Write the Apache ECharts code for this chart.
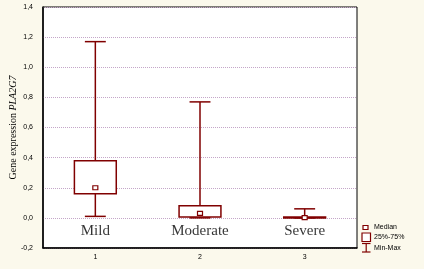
<!DOCTYPE html>
<html>
<head>
<meta charset="utf-8">
<script src="https://cdn.jsdelivr.net/npm/echarts@6/dist/echarts.min.js"></script>
<style>
  html, body { margin: 0; padding: 0; background: #fbf9ec; }
  #chart { width: 424px; height: 269px; }
</style>
</head>
<body>
<div id="chart"></div>
<script>
// categories on the x axis (tick labels) and the group names written inside the plot
var tickLabels = ['1', '2', '3'];
var groupNames = ['Mild', 'Moderate', 'Severe'];
// box statistics per group: min, 25%, median, 75%, max
var minVals = [0.01, 0.0, 0.0];
var q1Vals = [0.16, 0.005, 0.0];
var medianVals = [0.2, 0.03, 0.002];
var q3Vals = [0.38, 0.08, 0.005];
var maxVals = [1.17, 0.77, 0.06];
// y position of the group name labels
var nameY = [-0.09, -0.09, -0.09];

var darkRed = '#800000';

var boxData = tickLabels.map(function (t, i) {
  return [i, minVals[i], q1Vals[i], medianVals[i], q3Vals[i], maxVals[i]];
});
var nameData = groupNames.map(function (n, i) {
  return { value: [i, nameY[i]], name: n };
});

function renderBox(params, api) {
  var x = api.value(0);
  var band = api.size([1, 0])[0];
  var boxW = band * 0.4;
  var capW = band * 0.2;
  var pMin = api.coord([x, api.value(1)]);
  var pQ1 = api.coord([x, api.value(2)]);
  var pMed = api.coord([x, api.value(3)]);
  var pQ3 = api.coord([x, api.value(4)]);
  var pMax = api.coord([x, api.value(5)]);
  var st = { stroke: darkRed, lineWidth: 1.5, fill: null };
  var cx = pMin[0];
  return {
    type: 'group',
    children: [
      { type: 'line', shape: { x1: cx, y1: pMax[1], x2: cx, y2: pQ3[1] }, style: st },
      { type: 'line', shape: { x1: cx, y1: pQ1[1], x2: cx, y2: pMin[1] }, style: st },
      { type: 'line', shape: { x1: cx - capW / 2, y1: pMax[1], x2: cx + capW / 2, y2: pMax[1] }, style: st },
      { type: 'line', shape: { x1: cx - capW / 2, y1: pMin[1], x2: cx + capW / 2, y2: pMin[1] }, style: st },
      { type: 'rect', shape: { x: cx - boxW / 2, y: pQ3[1], width: boxW, height: Math.max(pQ1[1] - pQ3[1], 1) },
        style: { stroke: darkRed, lineWidth: 1.5, fill: '#fff' } },
      { type: 'rect', shape: { x: cx - 2.5, y: pMed[1] - 2, width: 5, height: 4 },
        style: { stroke: darkRed, lineWidth: 1.2, fill: '#fff' } }
    ]
  };
}

var chart = echarts.init(document.getElementById('chart'));
chart.setOption({
  backgroundColor: '#fbf9ec',
  animation: false,
  grid: {
    left: 43, right: 67, top: 7, bottom: 21,
    containLabel: false, outerBoundsMode: 'none',
    show: true, backgroundColor: '#fff', borderColor: '#000', borderWidth: 1
  },
  xAxis: {
    type: 'category',
    data: tickLabels,
    axisLine: { onZero: false, lineStyle: { color: '#000', width: 1.5 } },
    axisTick: { show: false },
    axisLabel: { color: '#000', fontSize: 7, fontFamily: 'Arial, Liberation Sans', margin: 6 },
    splitLine: { show: false }
  },
  yAxis: {
    type: 'value',
    min: -0.2, max: 1.4, interval: 0.2,
    name: '{n|Gene expression }{i|PLA2G7}',
    nameLocation: 'middle',
    nameGap: 25,
    nameMoveOverlap: false,
    nameTextStyle: {
      rich: {
        n: { fontFamily: 'Liberation Serif, Times New Roman, serif', fontSize: 10, color: '#000' },
        i: { fontFamily: 'Liberation Serif, Times New Roman, serif', fontSize: 10, fontStyle: 'italic', color: '#000' }
      }
    },
    axisLine: { show: true, onZero: false, lineStyle: { color: '#000', width: 1.5 } },
    axisTick: { show: false },
    axisLabel: {
      color: '#000', fontSize: 7, fontFamily: 'Arial, Liberation Sans', margin: 10,
      formatter: function (v) { return v.toFixed(1).replace('.', ','); }
    },
    splitLine: { lineStyle: { color: '#c4a6c8', type: 'dotted', width: 1 } }
  },
  series: [
    {
      type: 'custom',
      renderItem: renderBox,
      encode: { x: 0, y: [1, 2, 3, 4, 5] },
      data: boxData,
      z: 5
    },
    {
      type: 'scatter',
      symbolSize: 0,
      data: nameData,
      label: {
        show: true, position: 'inside', formatter: '{b}',
        fontFamily: 'Liberation Serif, Times New Roman, serif', fontSize: 15, color: '#000'
      },
      z: 6
    }
  ],
  graphic: [
    { type: 'rect', shape: { x: 363, y: 225.5, width: 5, height: 4 }, style: { stroke: darkRed, lineWidth: 1.2, fill: '#fff' } },
    { type: 'text', x: 374, y: 227.5, style: { text: 'Median', fontSize: 7, fontFamily: 'Arial, Liberation Sans', fill: '#000', verticalAlign: 'middle' } },
    { type: 'rect', shape: { x: 362, y: 233, width: 8.5, height: 8.5 }, style: { stroke: darkRed, lineWidth: 1.2, fill: '#fff' } },
    { type: 'text', x: 374, y: 237.5, style: { text: '25%-75%', fontSize: 7, fontFamily: 'Arial, Liberation Sans', fill: '#000', verticalAlign: 'middle' } },
    { type: 'line', shape: { x1: 362, y1: 243.5, x2: 370.5, y2: 243.5 }, style: { stroke: darkRed, lineWidth: 1.2 } },
    { type: 'line', shape: { x1: 366.2, y1: 243.5, x2: 366.2, y2: 252 }, style: { stroke: darkRed, lineWidth: 1.2 } },
    { type: 'line', shape: { x1: 362, y1: 252, x2: 370.5, y2: 252 }, style: { stroke: darkRed, lineWidth: 1.2 } },
    { type: 'text', x: 374, y: 248, style: { text: 'Min-Max', fontSize: 7, fontFamily: 'Arial, Liberation Sans', fill: '#000', verticalAlign: 'middle' } }
  ]
});
</script>
</body>
</html>
